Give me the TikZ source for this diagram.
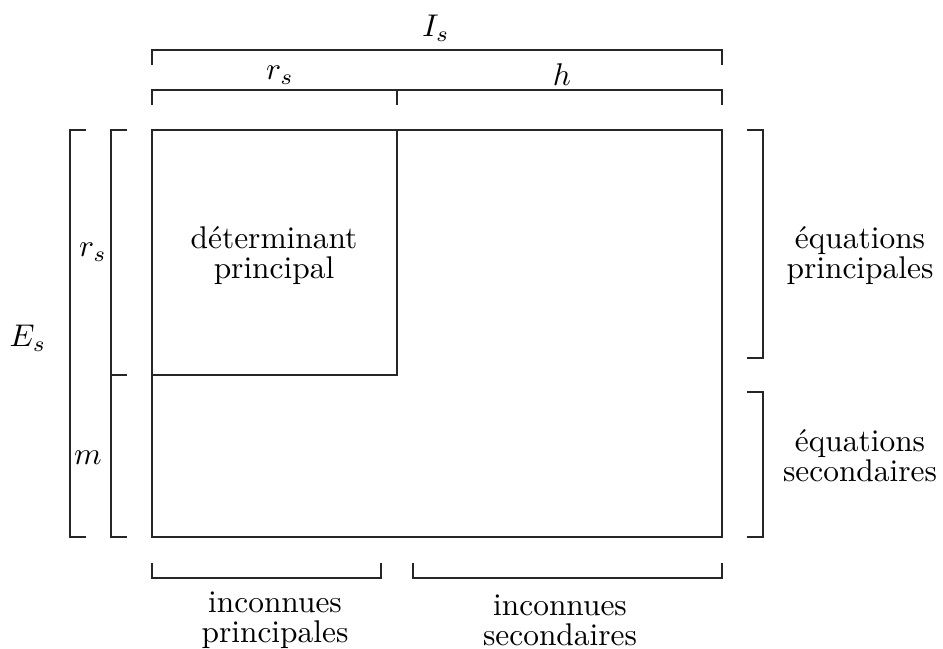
\documentclass[tikz,border=0pt]{standalone}
\begin{document}
\begin{tikzpicture}[x=0.3185pt,y=-0.3185pt,
  line/.style={line width=0.65pt,black!85},
  lbl/.style={inner sep=0pt,align=center,font=\fontsize{10}{9.6}\selectfont},
  mlbl/.style={inner sep=0pt}]
\useasboundingbox (0,0) rectangle (943,649);
% main rectangle and principal determinant
\draw[line] (152,130) rectangle (722,537);
\draw[line] (152,375) -- (397,375) -- (397,130);
% top brackets
\draw[line] (152,65) -- (152,50) -- (722,50) -- (722,65);
\draw[line] (152,105) -- (152,90) -- (722,90) -- (722,105);
\draw[line] (397,90) -- (397,105);
% left brackets
\draw[line] (86,130) -- (70,130) -- (70,537) -- (86,537);
\draw[line] (127,130) -- (111,130) -- (111,537) -- (127,537);
\draw[line] (111,375) -- (127,375);
% right brackets
\draw[line] (747,130) -- (763,130) -- (763,358) -- (747,358);
\draw[line] (747,392) -- (763,392) -- (763,537) -- (747,537);
% bottom brackets
\draw[line] (152,563) -- (152,578) -- (381,578) -- (381,563);
\draw[line] (413,563) -- (413,578) -- (722,578) -- (722,563);
% labels
\node[mlbl] (Is) at (436,28) {$I_s$};
\node[mlbl] (rs) at (280,75) {$r_s$};
\node[mlbl] (h) at (562,75) {$h$};
\node[mlbl] (Es) at (28,338) {$E_s$};
\node[mlbl] (rs2) at (93,252) {$r_s$};
\node[mlbl] (m) at (88,458) {$m$};
\node[lbl] (det) at (274,256) {déterminant\\principal};
\node[lbl] (eqp) at (860,256) {équations\\principales};
\node[lbl] (eqs) at (860,456) {équations\\secondaires};
\node[lbl] (inp) at (275,620) {inconnues\\principales};
\node[lbl] (ins) at (560,620) {inconnues\\secondaires};
\end{tikzpicture}
\end{document}
